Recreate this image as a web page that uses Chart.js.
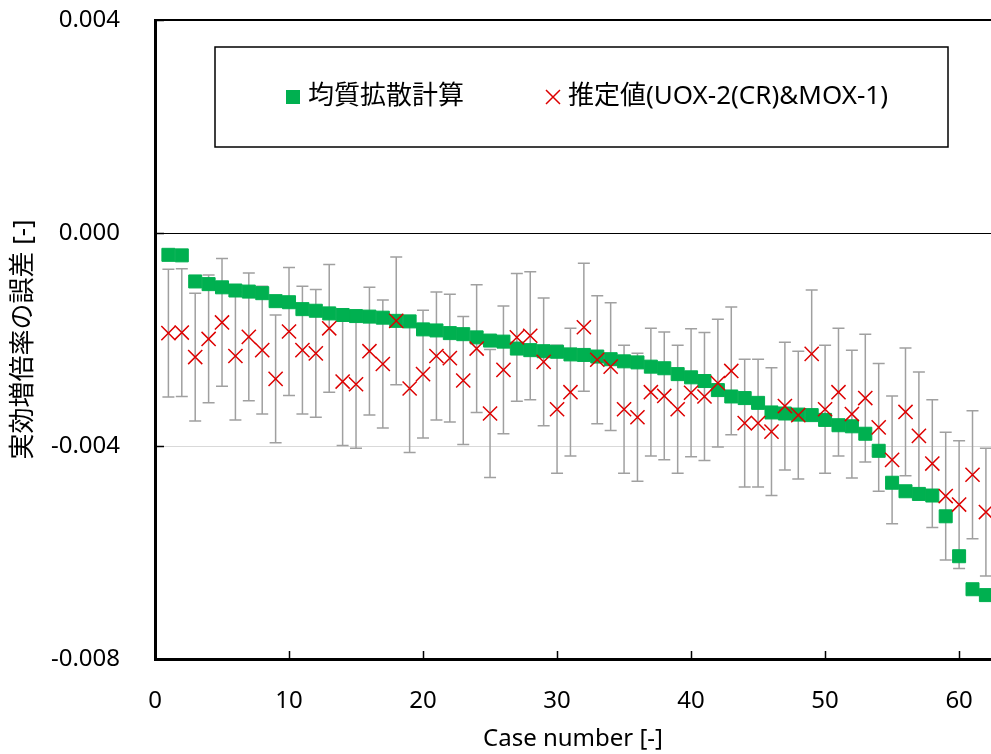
<!DOCTYPE html>
<html>
<head>
<meta charset="utf-8">
<title>実効増倍率の誤差</title>
<script src="https://cdn.jsdelivr.net/npm/chart.js@4.4.1/dist/chart.umd.min.js"></script>
<style>
  html, body { margin: 0; padding: 0; background: #ffffff; }
  canvas { display: block; }
</style>
</head>
<body>
<canvas id="errorChart" width="991" height="754"></canvas>
<script>
// Case numbers on the x axis
const caseNumbers = [
  1, 2, 3, 4, 5, 6, 7, 8, 9, 10, 11, 12, 13, 14, 15, 16, 17, 18, 19, 20,
  21, 22, 23, 24, 25, 26, 27, 28, 29, 30, 31, 32, 33, 34, 35, 36, 37, 38, 39, 40,
  41, 42, 43, 44, 45, 46, 47, 48, 49, 50, 51, 52, 53, 54, 55, 56, 57, 58, 59, 60,
  61, 62
];

// 均質拡散計算 (homogenized diffusion calculation)
const homogenized = [
  -0.00041, -0.00042, -0.00091, -0.00096, -0.00102, -0.00108, -0.00110, -0.00113, -0.00128, -0.00130,
  -0.00143, -0.00146, -0.00151, -0.00154, -0.00156, -0.00157, -0.00159, -0.00165, -0.00166, -0.00181,
  -0.00183, -0.00188, -0.00190, -0.00196, -0.00202, -0.00204, -0.00217, -0.00220, -0.00222, -0.00223,
  -0.00228, -0.00229, -0.00232, -0.00237, -0.00241, -0.00243, -0.00251, -0.00254, -0.00265, -0.00271,
  -0.00278, -0.00295, -0.00307, -0.00310, -0.00319, -0.00337, -0.00339, -0.00341, -0.00342, -0.00351,
  -0.00361, -0.00363, -0.00377, -0.00409, -0.00469, -0.00485, -0.00490, -0.00493, -0.00532, -0.00607,
  -0.00669, -0.00680
];

// 推定値 (UOX-2(CR) & MOX-1)
const estimated = [
  -0.00188, -0.00187, -0.00233, -0.00199, -0.00168, -0.00231, -0.00195, -0.00220, -0.00274, -0.00185,
  -0.00220, -0.00226, -0.00179, -0.00279, -0.00284, -0.00222, -0.00246, -0.00165, -0.00292, -0.00265,
  -0.00231, -0.00235, -0.00277, -0.00217, -0.00339, -0.00257, -0.00196, -0.00193, -0.00242, -0.00331,
  -0.00299, -0.00177, -0.00238, -0.00251, -0.00331, -0.00346, -0.00299, -0.00306, -0.00331, -0.00300,
  -0.00307, -0.00282, -0.00259, -0.00357, -0.00357, -0.00373, -0.00325, -0.00342, -0.00227, -0.00331,
  -0.00299, -0.00340, -0.00310, -0.00365, -0.00426, -0.00336, -0.00381, -0.00433, -0.00494, -0.00510,
  -0.00454, -0.00524
];

// uncertainty of the estimate (error bar half-length)
const estimatedErr = [
  0.0012, 0.0012, 0.0012, 0.0012, 0.0012, 0.0012, 0.0012, 0.0012, 0.0012, 0.0012,
  0.0012, 0.0012, 0.0012, 0.0012, 0.0012, 0.0012, 0.0012, 0.0012, 0.0012, 0.0012,
  0.0012, 0.0012, 0.0012, 0.0012, 0.0012, 0.0012, 0.0012, 0.0012, 0.0012, 0.0012,
  0.0012, 0.0012, 0.0012, 0.0012, 0.0012, 0.0012, 0.0012, 0.0012, 0.0012, 0.0012,
  0.0012, 0.0012, 0.0012, 0.0012, 0.0012, 0.0012, 0.0012, 0.0012, 0.0012, 0.0012,
  0.0012, 0.0012, 0.0012, 0.0012, 0.0012, 0.0012, 0.0012, 0.0012, 0.0012, 0.0012,
  0.0012, 0.0012
];

const yTickValues = [0.004, 0.000, -0.004, -0.008];
const xTickValues = [0, 10, 20, 30, 40, 50, 60];

const FONT = "'Noto Sans', 'Noto Sans CJK JP', sans-serif";
const GREEN = "#00b050";
const RED = "#dd0000";

// gray error bars with caps, drawn under the markers
const errorBars = {
  id: "errorBars",
  beforeDatasetsDraw(chart) {
    const { ctx, chartArea, scales: { x, y } } = chart;
    ctx.save();
    ctx.beginPath();
    ctx.rect(chartArea.left, chartArea.top, chartArea.width, chartArea.height);
    ctx.clip();
    ctx.strokeStyle = "#a0a0a0";
    ctx.lineWidth = 1.5;
    caseNumbers.forEach((c, i) => {
      const px = x.getPixelForValue(c);
      const top = y.getPixelForValue(estimated[i] + estimatedErr[i]);
      const bot = y.getPixelForValue(estimated[i] - estimatedErr[i]);
      ctx.beginPath();
      ctx.moveTo(px, top);
      ctx.lineTo(px, bot);
      ctx.moveTo(px - 6, top);
      ctx.lineTo(px + 6, top);
      ctx.moveTo(px - 6, bot);
      ctx.lineTo(px + 6, bot);
      ctx.stroke();
    });
    ctx.restore();
  }
};

// short tick marks pointing into the plot
const innerTicks = {
  id: "innerTicks",
  afterDatasetsDraw(chart) {
    const { ctx, scales: { x, y } } = chart;
    ctx.save();
    ctx.strokeStyle = "#000";
    ctx.lineWidth = 1.5;
    ctx.beginPath();
    x.ticks.forEach(t => {
      const px = Math.round(x.getPixelForValue(t.value)) + 0.5;
      ctx.moveTo(px, y.bottom);
      ctx.lineTo(px, y.bottom - 8);
    });
    y.ticks.forEach(t => {
      const py = Math.round(y.getPixelForValue(t.value)) + 0.5;
      ctx.moveTo(x.left, py);
      ctx.lineTo(x.left + 9, py);
    });
    ctx.stroke();
    ctx.restore();
  }
};

// framed legend sitting inside the plot
const boxLegend = {
  id: "boxLegend",
  afterDraw(chart) {
    const { ctx } = chart;
    const [homo, est] = chart.data.datasets;
    ctx.save();
    ctx.fillStyle = "#fff";
    ctx.fillRect(215, 47, 733, 100);
    ctx.strokeStyle = "#000";
    ctx.lineWidth = 1.5;
    ctx.strokeRect(215, 47, 733, 100);

    const cy = 97;
    ctx.fillStyle = homo.backgroundColor;
    ctx.fillRect(286, cy - 7, 14, 14);

    ctx.strokeStyle = est.borderColor;
    ctx.lineWidth = 1.5;
    ctx.beginPath();
    ctx.moveTo(546, cy - 7); ctx.lineTo(560, cy + 7);
    ctx.moveTo(546, cy + 7); ctx.lineTo(560, cy - 7);
    ctx.stroke();

    ctx.fillStyle = "#000";
    ctx.font = "26px " + FONT;
    ctx.textBaseline = "middle";
    ctx.textAlign = "left";
    ctx.fillText(homo.label, 308, cy);
    ctx.fillText(est.label, 568, cy);
    ctx.restore();
  }
};

new Chart(document.getElementById("errorChart"), {
  type: "scatter",
  data: {
    datasets: [
      {
        label: "均質拡散計算",
        data: caseNumbers.map((c, i) => ({ x: c, y: homogenized[i] })),
        pointStyle: "rect",
        pointRadius: 9.2,
        backgroundColor: GREEN,
        borderColor: GREEN,
        borderWidth: 1,
        order: 2
      },
      {
        label: "推定値(UOX-2(CR)&MOX-1)",
        data: caseNumbers.map((c, i) => ({ x: c, y: estimated[i] })),
        pointStyle: "crossRot",
        pointRadius: 10,
        backgroundColor: RED,
        borderColor: RED,
        borderWidth: 1.5,
        order: 1
      }
    ]
  },
  options: {
    responsive: false,
    animation: false,
    events: [],
    // the plot runs right up to the canvas edge; markers there are simply cut
    layout: { autoPadding: false, padding: { top: 20, right: 0, bottom: 0, left: 0 } },
    plugins: {
      legend: { display: false },
      tooltip: { enabled: false }
    },
    scales: {
      x: {
        type: "linear",
        min: 0,
        max: 62.38,
        // fixed axis height, and no extra room for the end labels
        afterFit: s => {
          s.height = 95;
          s.paddingLeft = 0;
          s.paddingRight = 0;
        },
        afterBuildTicks: s => { s.ticks = xTickValues.map(v => ({ value: v })); },
        ticks: {
          color: "#000",
          font: { family: FONT, size: 24 },
          padding: 28,
          maxRotation: 0
        },
        grid: { display: false, drawTicks: false },
        border: { color: "#000", width: 3 },
        title: {
          display: true,
          text: "Case number [-]",
          color: "#000",
          font: { family: FONT, size: 24 },
          padding: { top: 0, bottom: 0 }
        }
      },
      y: {
        min: -0.008,
        max: 0.004,
        afterFit: s => {
          s.width = 155;
          s.paddingTop = 0;
          s.paddingBottom = 0;
        },
        afterBuildTicks: s => { s.ticks = yTickValues.map(v => ({ value: v })); },
        ticks: {
          color: "#000",
          font: { family: FONT, size: 24 },
          padding: 35,
          callback: v => v.toFixed(3)
        },
        grid: {
          drawTicks: false,
          color: c => (c.tick && c.tick.value > -0.002) ? "#000" : "#d9d9d9",
          lineWidth: c => (c.tick && c.tick.value > 0.003) ? 2 : 1
        },
        border: { color: "#000", width: 3 },
        title: {
          display: true,
          text: "実効増倍率の誤差 [-]",
          color: "#000",
          font: { family: FONT, size: 26 },
          padding: { top: 8, bottom: 0 }
        }
      }
    }
  },
  plugins: [errorBars, innerTicks, boxLegend]
});
</script>
</body>
</html>
